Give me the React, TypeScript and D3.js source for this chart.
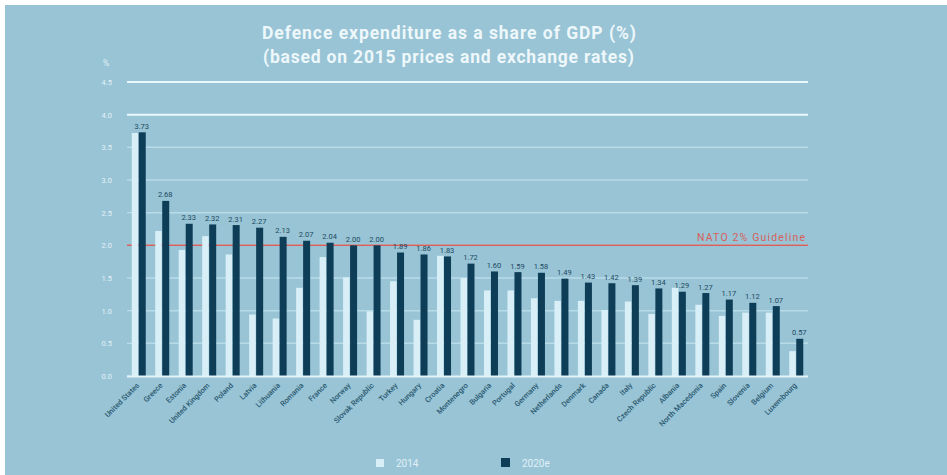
import * as d3 from "d3";
import React from "react";

// NATO defence expenditure, % of GDP
const countries = [
  "United States", "Greece", "Estonia", "United Kingdom", "Poland", "Latvia",
  "Lithuania", "Romania", "France", "Norway", "Slovak Republic", "Turkey",
  "Hungary", "Croatia", "Montenegro", "Bulgaria", "Portugal", "Germany",
  "Netherlands", "Denmark", "Canada", "Italy", "Czech Republic", "Albania",
  "North Macedonia", "Spain", "Slovenia", "Belgium", "Luxembourg",
];
const values2014 = [
  3.72, 2.22, 1.93, 2.14, 1.86, 0.94, 0.88, 1.35, 1.82, 1.51, 0.99, 1.45,
  0.86, 1.84, 1.50, 1.31, 1.31, 1.19, 1.15, 1.15, 1.01, 1.14, 0.95, 1.35,
  1.09, 0.92, 0.97, 0.97, 0.38,
];
const values2020 = [
  3.73, 2.68, 2.33, 2.32, 2.31, 2.27, 2.13, 2.07, 2.04, 2.00, 2.00, 1.89,
  1.86, 1.83, 1.72, 1.60, 1.59, 1.58, 1.49, 1.43, 1.42, 1.39, 1.34, 1.29,
  1.27, 1.17, 1.12, 1.07, 0.57,
];
const yTicks = [0, 0.5, 1, 1.5, 2, 2.5, 3, 3.5, 4, 4.5];
const guideline = 2.0;

const W = 947, H = 475;
const bg = "#98c4d6";
const dark = "#0e3d58";
const light = "#d8eff7";
const red = "#d9605a";

const App = () => {
  const x = d3.scaleBand<string>().domain(countries).range([127, 808]);
  const y = d3.scaleLinear().domain([0, 4.5]).range([376, 82]);
  const bw = 6.5;
  const fmt = d3.format(".2f");
  const center = (c: string) => (x(c) as number) + x.bandwidth() / 2;

  return (
    <svg width={W} height={H} style={{ position: "absolute", left: 0, top: 0 }}
      fontFamily="Roboto, 'Liberation Sans', sans-serif">
      <rect x={0} y={0} width={W} height={H} fill="#fff" />
      <rect x={5} y={5} width={W - 5} height={H - 5} fill={bg} />

      <text x={262} y={39} fill="#eef7fa" fontSize={17.5} fontWeight="bold"
        textLength={374} lengthAdjust="spacing">
        Defence expenditure as a share of GDP (%)
      </text>
      <text x={263} y={63} fill="#eef7fa" fontSize={17.5} fontWeight="bold"
        textLength={371} lengthAdjust="spacing">
        (based on 2015 prices and exchange rates)
      </text>

      <text x={106} y={66} textAnchor="middle" fill="#e4f2f7" fontSize={8.5}>%</text>

      {yTicks.map((t) => (
        <g key={t}>
          <text x={112} y={y(t) + 3} textAnchor="end" fill="#e4f2f7" fontSize={7.5}>
            {t.toFixed(1)}
          </text>
          <line x1={127} x2={t >= 4 ? 808 : 131} y1={y(t)} y2={y(t)}
            stroke={t >= 4 ? "#eaf7fb" : "#c4e3ee"} strokeWidth={t >= 4 ? 2 : 1} />
          {t > 0 && t < 4 && (
            <line x1={131} x2={808} y1={y(t)} y2={y(t)} stroke="#b8dbe8" strokeWidth={1.5} />
          )}
        </g>
      ))}

      <line x1={127} x2={808} y1={y(guideline)} y2={y(guideline)} stroke={red} strokeWidth={1.5} />
      <text x={697} y={y(guideline) - 4} fill={red} fontSize={10.5}
        textLength={108} lengthAdjust="spacing">
        NATO 2% Guideline
      </text>

      {countries.map((c, i) => {
        const cx = center(c);
        return (
          <g key={c}>
            <rect x={cx - bw - 0.5} y={y(values2014[i])} width={bw}
              height={y(0) - y(values2014[i])} fill={light} />
            <rect x={cx} y={y(values2020[i])} width={bw + 0.5}
              height={y(0) - y(values2020[i])} fill={dark} />
            <text x={cx + 3} y={y(values2020[i]) - 3.5} textAnchor="middle"
              fill="#1d4a60" fontSize={7.5}>
              {fmt(values2020[i])}
            </text>
            <text transform={`translate(${cx + 1},${y(0) + 10}) rotate(-45)`}
              textAnchor="end" fill="#2c5a71" fontSize={7.5} fontWeight={500}>
              {c}
            </text>
          </g>
        );
      })}

      <line x1={127} x2={808} y1={y(0) + 0.5} y2={y(0) + 0.5} stroke="#e2f4fa" strokeWidth={2} />

      <rect x={376} y={459} width={8} height={8} fill={light} />
      <text x={396} y={467} fill="#e0f0f6" fontSize={10}>2014</text>
      <rect x={501} y={458} width={9} height={9} fill={dark} />
      <text x={522} y={467} fill="#e0f0f6" fontSize={10}>2020e</text>
    </svg>
  );
};

export default App;
